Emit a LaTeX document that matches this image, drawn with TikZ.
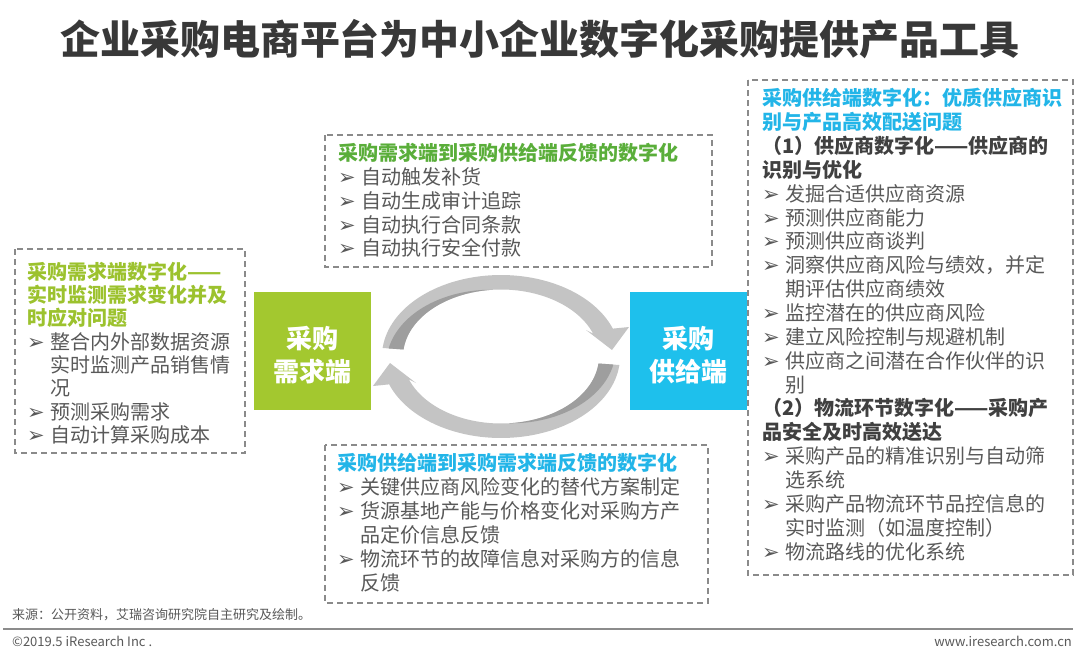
\documentclass[tikz,border=0pt]{standalone}
\usepackage{fontspec}
\setmainfont{Noto Sans CJK SC}
\newfontfamily\dejavu{DejaVu Sans}
\definecolor{titlegray}{HTML}{383838}
\definecolor{bodygray}{HTML}{595959}
\definecolor{subgray}{HTML}{404040}
\definecolor{lgreen}{HTML}{A3C82F}
\definecolor{tgreen}{HTML}{9CC22E}
\definecolor{dgreen}{HTML}{5AAE3A}
\definecolor{cyanbox}{HTML}{1EC0EC}
\definecolor{cyantxt}{HTML}{22B5E8}
\definecolor{dashgray}{HTML}{8A8A8A}
\definecolor{arrowlight}{HTML}{C4C4C4}
\definecolor{arrowdark}{HTML}{9E9E9E}
\definecolor{rulegray}{HTML}{8C8C8C}
\newcommand\mybul{\makebox[23pt][l]{\raisebox{0pt}{\dejavu\fontsize{21}{21}\selectfont ➢}}}
\newcommand\myind{\hspace*{23pt}}
\newcommand\gtit{\bfseries\color{tgreen}}
\newcommand\dgtit{\bfseries\color{dgreen}}
\newcommand\btit{\bfseries\color{cyantxt}}
\newcommand\stit{\bfseries\color{subgray}}
\begin{document}
\begin{tikzpicture}[x=1pt,y=-1pt,
  txt/.style={inner sep=0pt, anchor=base west, text=bodygray, font=\fontsize{20}{24}\selectfont},
  dbox/.style={draw=dashgray, line width=1.1pt, dash pattern=on 6pt off 4pt},
  sidebox/.style={inner sep=0pt, minimum width=117pt, minimum height=118pt},
  sidetxt/.style={inner sep=0pt, align=center, text=white, font=\fontsize{26}{33}\selectfont\bfseries},
  foot/.style={inner sep=0pt, text=bodygray, font=\fontsize{13}{15}\selectfont}]
\useasboundingbox (0,0) rectangle (1080,656);
\fill[white] (0,0) rectangle (1080,656);

% title
\node[inner sep=0pt, text=titlegray, font=\fontsize{40}{46}\selectfont\bfseries] (title) at (540,39) {企业采购电商平台为中小企业数字化采购提供产品工具};

% dashed boxes
\draw[dbox] (15,249) rectangle (245,453);
\draw[dbox] (325,135) rectangle (712,267);
\draw[dbox] (325,445) rectangle (708,603);
\draw[dbox] (748,80) rectangle (1073,575);

% left box text
\foreach \ltext [count=\i from 0] in {
  {\gtit 采购需求端数字化——},
  {\gtit 实时监测需求变化并及},
  {\gtit 时应对问题},
  {\mybul 整合内外部数据资源},
  {\myind 实时监测产品销售情},
  {\myind 况},
  {\mybul 预测采购需求},
  {\mybul 自动计算采购成本}}
  \node[txt] (L\i) at (27,{271.8+23.3*\i+7.5}) {\ltext};

% top box text
\foreach \ltext [count=\i from 0] in {
  {\dgtit 采购需求端到采购供给端反馈的数字化},
  {\mybul 自动触发补货},
  {\mybul 自动生成审计追踪},
  {\mybul 自动执行合同条款},
  {\mybul 自动执行安全付款}}
  \node[txt] (T\i) at (338,{153.3+23.75*\i+7.5}) {\ltext};

% bottom box text
\foreach \ltext [count=\i from 0] in {
  {\btit 采购供给端到采购需求端反馈的数字化},
  {\mybul 关键供应商风险变化的替代方案制定},
  {\mybul 货源基地产能与价格变化对采购方产},
  {\myind 品定价信息反馈},
  {\mybul 物流环节的故障信息对采购方的信息},
  {\myind 反馈}}
  \node[txt] (B\i) at (337,{463.3+23.94*\i+7.5}) {\ltext};

% right box text
\foreach \ltext [count=\i from 0] in {
  {\btit 采购供给端数字化：优质供应商识},
  {\btit 别与产品高效配送问题},
  {\stit （1）供应商数字化——供应商的},
  {\stit 识别与优化},
  {\mybul 发掘合适供应商资源},
  {\mybul 预测供应商能力},
  {\mybul 预测供应商谈判},
  {\mybul 洞察供应商风险与绩效，并定},
  {\myind 期评估供应商绩效},
  {\mybul 监控潜在的供应商风险},
  {\mybul 建立风险控制与规避机制},
  {\mybul 供应商之间潜在合作伙伴的识},
  {\myind 别},
  {\stit （2）物流环节数字化——采购产},
  {\stit 品安全及时高效送达},
  {\mybul 采购产品的精准识别与自动筛},
  {\myind 选系统},
  {\mybul 采购产品物流环节品控信息的},
  {\myind 实时监测（如温度控制）},
  {\mybul 物流路线的优化系统}}
  \node[txt] (R\i) at (762,{98.3+23.86*\i+7.5}) {\ltext};

% side boxes
\node[sidebox, fill=lgreen] (demand) at (312.5,351) {};
\node[sidetxt] (demandtxt) at (312.5,355.5) {采购\\需求端};
\node[sidebox, fill=cyanbox] (supply) at (688.5,351) {};
\node[sidetxt] (supplytxt) at (688.5,355.5) {采购\\供给端};

% circular arrows
\fill[arrowlight] plot[domain=186:340, samples=60] ({501+119*cos(\x)},{356.5+81.5*sin(\x)})
  -- (629,327) -- (612,350) -- (586,330)
  -- plot[domain=340:186, samples=60] ({501+98*cos(\x)},{356.5+67*sin(\x)}) -- cycle;
\fill[arrowdark] plot[domain=186:265, samples=40] ({501+98*cos(\x)},{356.5+67*sin(\x)})
  -- plot[domain=265:186, samples=40] ({501+(98+15*(265-\x)/79)*cos(\x)},{356.5+(67+10*(265-\x)/79)*sin(\x)}) -- cycle;
\fill[arrowlight] plot[domain=6:160, samples=60] ({501+119*cos(\x)},{356.5+81.5*sin(\x)})
  -- (373,386) -- (390,363) -- (416,383)
  -- plot[domain=160:6, samples=60] ({501+98*cos(\x)},{356.5+67*sin(\x)}) -- cycle;
\fill[arrowdark] plot[domain=6:85, samples=40] ({501+98*cos(\x)},{356.5+67*sin(\x)})
  -- plot[domain=85:6, samples=40] ({501+(98+15*(85-\x)/79)*cos(\x)},{356.5+(67+10*(85-\x)/79)*sin(\x)}) -- cycle;

% footer
\node[foot, anchor=west] (source) at (12,615) {来源：公开资料，艾瑞咨询研究院自主研究及绘制。};
\draw[rulegray, line width=1.5pt] (3,629) -- (1073,629);
\node[foot, anchor=west] (copy) at (12,641) {©2019.5 iResearch Inc .};
\node[foot, anchor=east] (web) at (1072,641) {www.iresearch.com.cn};
\end{tikzpicture}
\end{document}
